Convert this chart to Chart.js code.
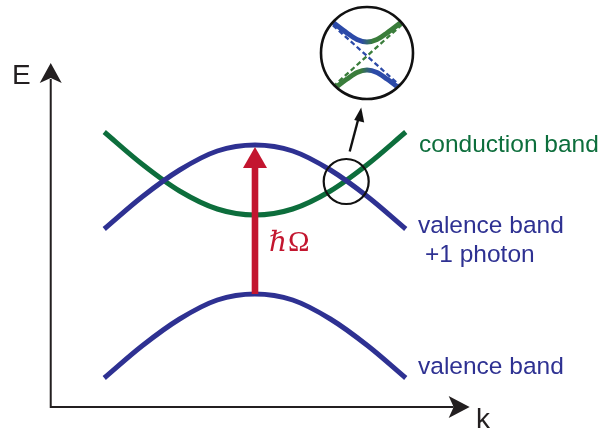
<!DOCTYPE html>
<html>
<head>
<meta charset="utf-8">
<script src="https://cdn.jsdelivr.net/npm/chart.js@4"></script>
<style>
  html, body { margin: 0; padding: 0; background: #ffffff; }
  #wrap { position: relative; width: 603px; height: 432px; overflow: hidden; }
  #main { position: absolute; left: 0; top: 0; }
  #inset { position: absolute; left: 317px; top: 3px; }
</style>
</head>
<body>
<div id="wrap">
  <canvas id="main" width="603" height="432"></canvas>
  <canvas id="inset" width="100" height="100"></canvas>
</div>
<script>
// ---------- data ----------
const K_GRID     = [-1, -0.75, -0.5, -0.25, 0, 0.25, 0.5, 0.75, 1];
const VALENCE    = [0.29, 0.61, 0.88, 1.07, 1.13, 1.07, 0.88, 0.61, 0.29];
const PHOTON     = [1.78, 2.10, 2.37, 2.56, 2.62, 2.56, 2.37, 2.10, 1.78];
const CONDUCTION = [2.75, 2.43, 2.16, 1.98, 1.92, 1.98, 2.16, 2.43, 2.75];

// inset (zoom of the anti-crossing)
const INSET_X     = [-0.8, -0.6, -0.4, -0.2, 0, 0.2, 0.4, 0.6, 0.8];
const INSET_UPPER = [0.77, 0.61, 0.46, 0.33, 0.28, 0.33, 0.46, 0.61, 0.77];
const INSET_LOWER = [-0.77, -0.61, -0.46, -0.33, -0.28, -0.33, -0.46, -0.61, -0.77];
const INSET_DIAB_X  = [-0.8, 0.8];
const INSET_DIAB_B  = [0.72, -0.72];   // blue dashed (valence + photon)
const INSET_DIAB_G  = [-0.72, 0.72];   // green dashed (conduction)

// axis extents / marker positions (data units)
const AXIS_K = [-1.355, 1.424];
const AXIS_E = [0, 3.44];
const CROSS_MARK = [0.605, 2.255];

// ---------- styles ----------
const BLUE = '#2e3192';
const GREEN = '#0d6e3c';
const RED = '#c3162f';
const INK = '#231f20';
const IBLUE = '#2c4aa8';
const IGREEN = '#3a7d3b';

const pts = (xs, ys) => xs.map((x, i) => ({ x: x, y: ys[i] }));

const mainPlugin = {
  id: 'decor',
  afterDatasetsDraw(chart) {
    const ctx = chart.ctx;
    const xs = chart.scales.x, ys = chart.scales.y;
    const px = v => xs.getPixelForValue(v);
    const py = v => ys.getPixelForValue(v);
    ctx.save();

    // axes
    const x0 = px(AXIS_K[0]), x1 = px(AXIS_K[1]);
    const y0 = py(AXIS_E[0]), y1 = py(AXIS_E[1]);
    ctx.strokeStyle = INK; ctx.fillStyle = INK; ctx.lineWidth = 2;
    ctx.beginPath();
    ctx.moveTo(x0, y1 + 16); ctx.lineTo(x0, y0); ctx.lineTo(x1 - 16, y0);
    ctx.stroke();
    // y arrowhead
    ctx.beginPath();
    ctx.moveTo(x0, y1); ctx.lineTo(x0 + 11, y1 + 20); ctx.lineTo(x0, y1 + 15);
    ctx.lineTo(x0 - 11, y1 + 20); ctx.closePath(); ctx.fill();
    // x arrowhead
    ctx.beginPath();
    ctx.moveTo(x1, y0); ctx.lineTo(x1 - 21, y0 - 11); ctx.lineTo(x1 - 16, y0);
    ctx.lineTo(x1 - 21, y0 + 11); ctx.closePath(); ctx.fill();

    // red arrow hbar*Omega
    const ax = px(0);
    const aFrom = py(VALENCE[4]);
    const aTo = py(PHOTON[4]) + 2;
    ctx.fillStyle = RED;
    ctx.fillRect(ax - 3.3, aTo + 18, 6.6, aFrom - aTo - 18);
    ctx.beginPath();
    ctx.moveTo(ax, aTo); ctx.lineTo(ax + 12, aTo + 21); ctx.lineTo(ax - 12, aTo + 21);
    ctx.closePath(); ctx.fill();

    // small circle at crossing
    const cx = px(CROSS_MARK[0]), cy = py(CROSS_MARK[1]);
    ctx.strokeStyle = '#111'; ctx.lineWidth = 2.2;
    ctx.beginPath(); ctx.arc(cx, cy, 22.5, 0, Math.PI * 2); ctx.stroke();
    // pointer arrow to inset
    ctx.lineWidth = 2.4;
    ctx.beginPath(); ctx.moveTo(cx + 3.5, cy - 30); ctx.lineTo(cx + 12.5, cy - 64); ctx.stroke();
    ctx.fillStyle = '#111';
    ctx.beginPath();
    ctx.moveTo(cx + 15, cy - 74); ctx.lineTo(cx + 18, cy - 59); ctx.lineTo(cx + 8, cy - 61.5);
    ctx.closePath(); ctx.fill();

    // texts
    ctx.textBaseline = 'alphabetic';
    ctx.fillStyle = INK;
    ctx.font = '28px "Liberation Sans", Arial, sans-serif';
    ctx.fillText('E', 12, 84);
    ctx.fillText('k', 476, 428);

    ctx.font = '24.5px "Liberation Sans", Arial, sans-serif';
    ctx.fillStyle = GREEN;
    ctx.fillText('conduction band', 419, 152);
    ctx.fillStyle = BLUE;
    ctx.fillText('valence band', 418, 233);
    ctx.fillText('+1 photon', 425, 262);
    ctx.fillText('valence band', 418, 374);

    ctx.fillStyle = RED;
    ctx.font = 'italic 28px "DejaVu Serif", "Liberation Serif", serif';
    ctx.fillText('\u210F', 269, 251);
    ctx.font = '29px "Liberation Serif", "DejaVu Serif", serif';
    ctx.fillText('\u03A9', 288, 251);
    ctx.restore();
  }
};

new Chart(document.getElementById('main'), {
  type: 'line',
  data: {
    datasets: [
      { data: pts(K_GRID, VALENCE), borderColor: BLUE },
      { data: pts(K_GRID, PHOTON), borderColor: BLUE },
      { data: pts(K_GRID, CONDUCTION), borderColor: GREEN }
    ]
  },
  options: {
    responsive: false, animation: false, devicePixelRatio: 1,
    layout: { padding: 0 },
    elements: {
      point: { radius: 0 },
      line: { borderWidth: 5, cubicInterpolationMode: 'monotone', borderCapStyle: 'butt', fill: false }
    },
    scales: {
      x: { type: 'linear', min: -1.6915, max: 2.3085, display: false },
      y: { type: 'linear', min: -0.25, max: 4.07, display: false }
    },
    plugins: { legend: { display: false }, tooltip: { enabled: false } }
  },
  plugins: [mainPlugin]
});

// ---------- inset ----------
function grad(chart, leftColor, rightColor) {
  const a = chart.chartArea;
  if (!a) return leftColor;
  const g = chart.ctx.createLinearGradient(a.left, 0, a.right, 0);
  g.addColorStop(0, leftColor); g.addColorStop(0.44, leftColor);
  g.addColorStop(0.56, rightColor); g.addColorStop(1, rightColor);
  return g;
}

const insetPlugin = {
  id: 'insetDecor',
  beforeDatasetsDraw(chart) {
    const ctx = chart.ctx, a = chart.chartArea;
    ctx.save();
    ctx.beginPath();
    ctx.arc((a.left + a.right) / 2, (a.top + a.bottom) / 2, 45, 0, Math.PI * 2);
    ctx.clip();
  },
  afterDatasetsDraw(chart) {
    const ctx = chart.ctx, a = chart.chartArea;
    ctx.restore();
    ctx.save();
    ctx.strokeStyle = '#111'; ctx.lineWidth = 2.6;
    ctx.beginPath();
    ctx.arc((a.left + a.right) / 2, (a.top + a.bottom) / 2, 46, 0, Math.PI * 2);
    ctx.stroke();
    ctx.restore();
  }
};

new Chart(document.getElementById('inset'), {
  type: 'line',
  data: {
    datasets: [
      { data: pts(INSET_DIAB_X, INSET_DIAB_B), borderColor: IBLUE, borderWidth: 2.3, borderDash: [5, 3], tension: 0 },
      { data: pts(INSET_DIAB_X, INSET_DIAB_G), borderColor: IGREEN, borderWidth: 2.3, borderDash: [5, 3], tension: 0 },
      { data: pts(INSET_X, INSET_UPPER), borderWidth: 5, borderColor: c => grad(c.chart, IBLUE, IGREEN) },
      { data: pts(INSET_X, INSET_LOWER), borderWidth: 5, borderColor: c => grad(c.chart, IGREEN, IBLUE) }
    ]
  },
  options: {
    responsive: false, animation: false, devicePixelRatio: 1,
    layout: { padding: 0 },
    elements: {
      point: { radius: 0 },
      line: { cubicInterpolationMode: 'monotone', fill: false }
    },
    scales: {
      x: { type: 'linear', min: -1, max: 1, display: false },
      y: { type: 'linear', min: -0.94, max: 1.06, display: false }
    },
    plugins: { legend: { display: false }, tooltip: { enabled: false } }
  },
  plugins: [insetPlugin]
});
</script>
</body>
</html>
